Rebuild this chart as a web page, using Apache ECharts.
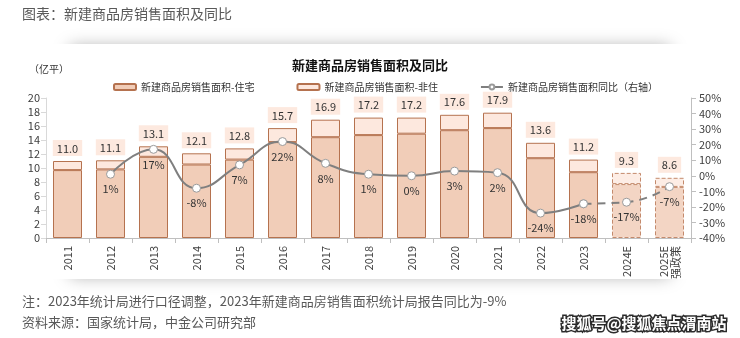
<!DOCTYPE html>
<html>
<head>
<meta charset="utf-8">
<script src="https://cdn.jsdelivr.net/npm/echarts@6/dist/echarts.min.js"></script>
<style>
  html, body { margin: 0; padding: 0; background: #fff; }
  #chart { width: 740px; height: 338px; }
</style>
</head>
<body>
<div id="chart"></div>
<script>
// 年份（横轴类别）
const years = ['2011', '2012', '2013', '2014', '2015', '2016', '2017', '2018', '2019', '2020', '2021', '2022', '2023', '2024E', '2025E\n强政策'];
// 新建商品房销售面积合计（亿平）
const totalArea = [11.0, 11.1, 13.1, 12.1, 12.8, 15.7, 16.9, 17.2, 17.2, 17.6, 17.9, 13.6, 11.2, 9.3, 8.6];
// 其中住宅（亿平）
const residentialArea = [9.7, 9.8, 11.6, 10.5, 11.2, 13.7, 14.4, 14.7, 14.9, 15.4, 15.7, 11.4, 9.4, 7.7, 7.3];
// 同比（%），2011 无数据
const yoyPct = [null, 1, 17, -8, 7, 22, 8, 1, 0, 3, 2, -24, -18, -17, -7];
// 左右轴刻度
const leftTicks = { min: 0, max: 20, interval: 2 };
const rightTicks = { min: -40, max: 50, interval: 10 };
// 预测年份起点
const forecastStart = 13;
const actualEnd = 12;

const nonResidentialArea = totalArea.map((t, i) => +(t - residentialArea[i]).toFixed(2));

const resColor = '#f1cdb8';
const nonResColor = '#fde8de';
const edgeColor = '#b5724f';

function barItems(values, fill) {
  return values.map((v, i) => {
    const est = i >= forecastStart;
    return {
      value: v,
      itemStyle: {
        color: est ? (fill === resColor ? '#f3d5c4' : '#fdede5') : fill,
        borderColor: est ? '#c48a6c' : edgeColor,
        borderWidth: 1,
        borderType: est ? 'dashed' : 'solid'
      }
    };
  });
}

const solidYoy = yoyPct.map((v, i) => (i <= actualEnd ? v : null));
const dashedYoy = yoyPct.map((v, i) => (i >= actualEnd ? v : null));

const chart = echarts.init(document.getElementById('chart'), null, { renderer: 'canvas' });

chart.setOption({
  animation: false,
  backgroundColor: '#ffffff',
  textStyle: { fontFamily: '"Noto Sans CJK SC", "Liberation Sans", sans-serif' },
  graphic: [
    // 卡片阴影
    {
      type: 'rect', z: -10, silent: true,
      shape: { x: 70, y: 47, width: 600, height: 229 },
      style: { fill: '#d0d0d0', shadowBlur: 16, shadowColor: 'rgba(0,0,0,0.35)' }
    },
    {
      type: 'rect', z: -9, silent: true,
      shape: { x: 0, y: 44, width: 740, height: 235 },
      style: { fill: '#ffffff' }
    },
    {
      type: 'text', left: 22, top: 7,
      style: { text: '图表：新建商品房销售面积及同比', fill: '#595959', fontSize: 14, fontFamily: '"Noto Sans CJK SC", sans-serif' }
    },
    {
      type: 'text', left: 'center', top: 59,
      style: { text: '新建商品房销售面积及同比', fill: '#111', fontSize: 13, fontWeight: 'bold', fontFamily: '"Noto Sans CJK SC", sans-serif' }
    },
    {
      type: 'text', left: 29, top: 64,
      style: { text: '（亿平）', fill: '#333', fontSize: 10, fontFamily: '"Noto Sans CJK SC", sans-serif' }
    },
    {
      type: 'text', left: 22, top: 295,
      style: { text: '注：2023年统计局进行口径调整，2023年新建商品房销售面积统计局报告同比为-9%', fill: '#595959', fontSize: 13, fontFamily: '"Noto Sans CJK SC", sans-serif' }
    },
    {
      type: 'text', left: 22, top: 316,
      style: { text: '资料来源：国家统计局，中金公司研究部', fill: '#595959', fontSize: 13, fontFamily: '"Noto Sans CJK SC", sans-serif' }
    },
    {
      type: 'text', right: 12, top: 314,
      style: { text: '搜狐号@搜狐焦点渭南站', fill: '#ffffff', stroke: '#2b2b2b', lineWidth: 3, fontSize: 15, fontWeight: 'bold', fontFamily: '"Noto Sans CJK SC", sans-serif' }
    }
  ],
  legend: {
    left: 108, top: 77,
    itemWidth: 22, itemHeight: 6, itemGap: 42,
    textStyle: { fontSize: 10, color: '#333' },
    data: [
      { name: '新建商品房销售面积-住宅' },
      { name: '新建商品房销售面积-非住' },
      { name: '新建商品房销售面积同比（右轴）' }
    ]
  },
  grid: { left: 46, right: 49, top: 98, bottom: 100 },
  xAxis: {
    type: 'category',
    data: years,
    axisLine: { lineStyle: { color: '#bfbfbf' } },
    axisTick: { show: true, lineStyle: { color: '#bfbfbf' } },
    axisLabel: { rotate: 90, fontSize: 11, color: '#404040', margin: 8, lineHeight: 12 }
  },
  yAxis: [
    {
      type: 'value', min: leftTicks.min, max: leftTicks.max, interval: leftTicks.interval,
      splitLine: { show: false },
      axisLine: { show: true, lineStyle: { color: '#d9d9d9' } },
      axisTick: { show: true, lineStyle: { color: '#d9d9d9' } },
      axisLabel: { fontSize: 11, color: '#404040', margin: 6 }
    },
    {
      type: 'value', min: rightTicks.min, max: rightTicks.max, interval: rightTicks.interval,
      splitLine: { show: false },
      axisLine: { show: true, lineStyle: { color: '#bfbfbf' } },
      axisTick: { show: true, lineStyle: { color: '#bfbfbf' } },
      axisLabel: { fontSize: 11, color: '#404040', margin: 8, formatter: '{value}%' }
    }
  ],
  series: [
    {
      name: '新建商品房销售面积-住宅',
      type: 'bar', stack: 'area', barWidth: 29,
      itemStyle: { color: resColor, borderColor: edgeColor, borderWidth: 1 },
      data: barItems(residentialArea, resColor)
    },
    {
      name: '新建商品房销售面积-非住',
      type: 'bar', stack: 'area', barWidth: 29,
      itemStyle: { color: nonResColor, borderColor: edgeColor, borderWidth: 1 },
      label: {
        show: true, position: 'top', distance: 5,
        fontSize: 11, color: '#333',
        backgroundColor: '#fde9df', padding: [3, 4, 2, 4],
        formatter: p => totalArea[p.dataIndex].toFixed(1)
      },
      data: barItems(nonResidentialArea, nonResColor)
    },
    {
      name: '新建商品房销售面积同比（右轴）',
      type: 'line', yAxisIndex: 1, smooth: true, z: 5,
      symbol: 'circle', symbolSize: 8,
      lineStyle: { color: '#7f7f7f', width: 2 },
      itemStyle: { color: '#ffffff', borderColor: '#9a9a9a', borderWidth: 1 },
      label: { show: true, position: 'bottom', fontSize: 11, color: '#333', formatter: p => p.value + '%' },
      data: solidYoy
    },
    {
      name: '新建商品房销售面积同比（右轴）',
      type: 'line', yAxisIndex: 1, smooth: true, z: 5,
      symbol: 'circle', symbolSize: 8,
      lineStyle: { color: '#7f7f7f', width: 2, type: [8, 6] },
      itemStyle: { color: '#ffffff', borderColor: '#9a9a9a', borderWidth: 1 },
      label: {
        show: true, position: 'bottom', fontSize: 11, color: '#333',
        formatter: p => (p.dataIndex >= forecastStart ? p.value + '%' : '')
      },
      data: dashedYoy
    }
  ]
});
</script>
</body>
</html>
